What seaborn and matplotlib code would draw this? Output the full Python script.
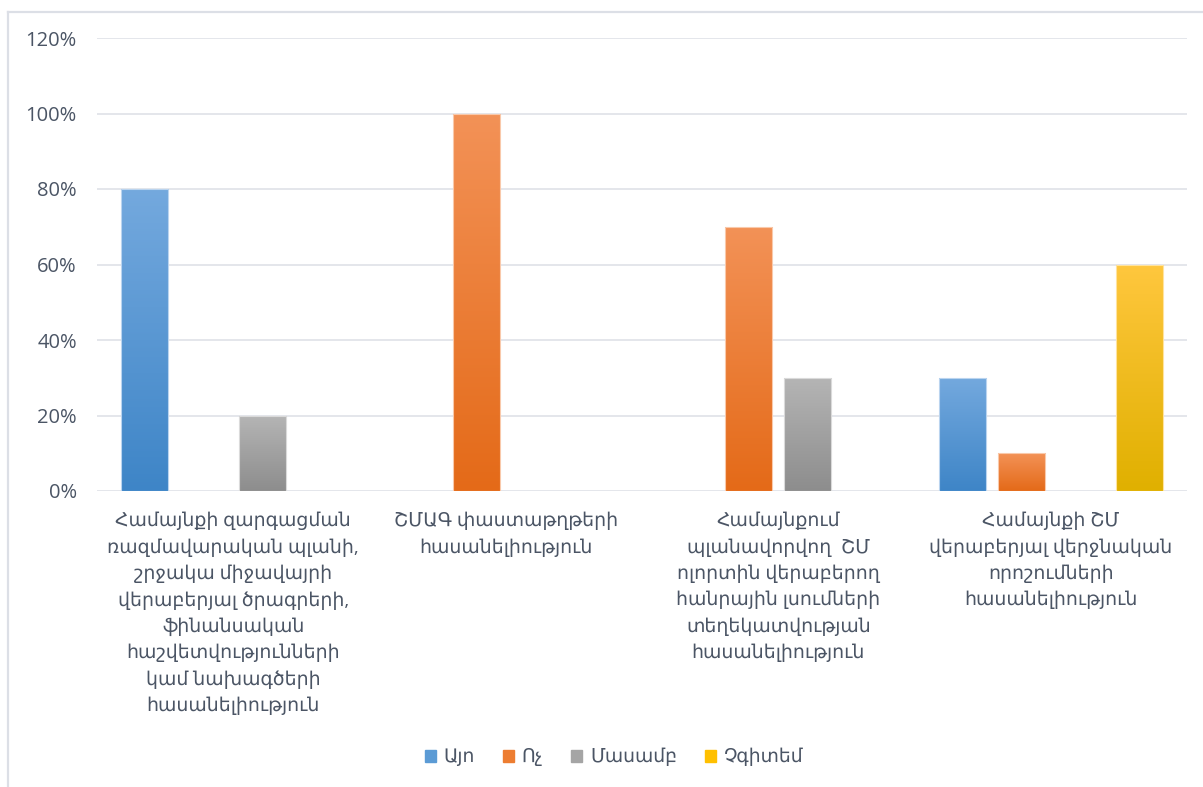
import matplotlib
matplotlib.use("Agg")
import matplotlib.pyplot as plt
import numpy as np
import pandas as pd
import seaborn as sb
from matplotlib.colors import LinearSegmentedColormap, to_rgb
from matplotlib.lines import Line2D
from matplotlib.ticker import PercentFormatter

# categories (x axis labels)
kategorianer = [
    "Համայնքի զարգացման\nռազմավարական պլանի,\nշրջակա միջավայրի\nվերաբերյալ ծրագրերի,\nֆինանսական\nհաշվետվությունների\nկամ նախագծերի\nհասանելիություն",
    "ՇՄԱԳ փաստաթղթերի\nհասանելիություն",
    "Համայնքում\nպլանավորվող  ՇՄ\nոլորտին վերաբերող\nհանրային լսումների\nտեղեկատվության\nհասանելիություն",
    "Համայնքի ՇՄ\nվերաբերյալ վերջնական\nորոշումների\nհասանելիություն",
]
series_names = ["Այո", "Ոչ", "Մասամբ", "Չգիտեմ"]

# share of answers per category
ayo = [0.80, 0.00, 0.00, 0.30]
voch = [0.00, 1.00, 0.70, 0.10]
masamb = [0.20, 0.00, 0.30, 0.00]
chgitem = [0.00, 0.00, 0.00, 0.60]

colors = ["#5b9bd5", "#ed7d31", "#a5a5a5", "#ffc000"]
tops = ["#74a9de", "#f39257", "#b5b5b5", "#ffc73e"]
bottoms = ["#3e85c7", "#e46a18", "#8d8d8d", "#e0b000"]

df = pd.DataFrame({
    "cat": kategorianer * 4,
    "ser": [s for s in series_names for _ in kategorianer],
    "val": ayo + voch + masamb + chgitem,
})

plt.rcParams["font.family"] = ["Open Sans", "DejaVu Sans"]
txt = "#4b5565"
grid_c = "#dcdfe6"

fig = plt.figure(figsize=(12.03, 7.87), dpi=100)
ax = fig.add_axes([97 / 1203, 1 - 491 / 787, 1090 / 1203, 453 / 787])

sb.barplot(data=df, x="cat", y="val", hue="ser", order=kategorianer,
           hue_order=series_names, palette=colors, width=0.866, gap=0.2,
           ax=ax, legend=True)

# gradient fill for every bar
for cont, top, bot in zip(ax.containers, tops, bottoms):
    cmap = LinearSegmentedColormap.from_list("g", [bot, top])
    for p in cont.patches:
        h = p.get_height()
        if h <= 0:
            p.set_visible(False)
            continue
        x0, w = p.get_x(), p.get_width()
        grad = np.linspace(0, 1, 256).reshape(-1, 1)
        im = ax.imshow(grad, extent=[x0, x0 + w, 0, h], origin="lower",
                       cmap=cmap, aspect="auto", zorder=2)
        im.set_clip_path(p)
        edge = tuple(0.5 + 0.5 * c for c in to_rgb(top))
        p.set_facecolor("none")
        p.set_edgecolor(edge)
        p.set_linewidth(0.8)
        p.set_zorder(3)

ax.set_xlim(-0.5, 3.5)
ax.set_ylim(0, 1.2)
ax.set_yticks(np.arange(0, 1.21, 0.2))
ax.yaxis.set_major_formatter(PercentFormatter(1.0, decimals=0))
ax.grid(axis="y", color=grid_c, linewidth=1.1)
ax.set_axisbelow(True)
for s in ax.spines.values():
    s.set_visible(False)
ax.set_xlabel("")
ax.set_ylabel("")
ax.tick_params(axis="y", length=0, pad=14.5, labelsize=14.5, labelcolor=txt)
ax.tick_params(axis="x", length=0, pad=15, labelsize=13.6, labelcolor=txt)
ax.set_xticks(range(4))
ax.set_xticklabels(kategorianer, linespacing=1.55)

ax.legend_.remove()
handles = [plt.Rectangle((0, 0), 1, 1, color=c) for c in colors]
fig.legend(handles, series_names, loc="center", ncol=4, frameon=False,
           bbox_to_anchor=(614 / 1203, 1 - 757 / 787), fontsize=13.5,
           handlelength=0.6, handleheight=0.6, handletextpad=0.4,
           columnspacing=1.5, labelcolor=txt)

# outer chart frame
fig.add_artist(Line2D([8 / 1203, 1], [1 - 12 / 787] * 2, color=grid_c, lw=1.6))
fig.add_artist(Line2D([8 / 1203] * 2, [0, 1 - 12 / 787], color=grid_c, lw=1.6))

fig.savefig("out.png", dpi=100)
